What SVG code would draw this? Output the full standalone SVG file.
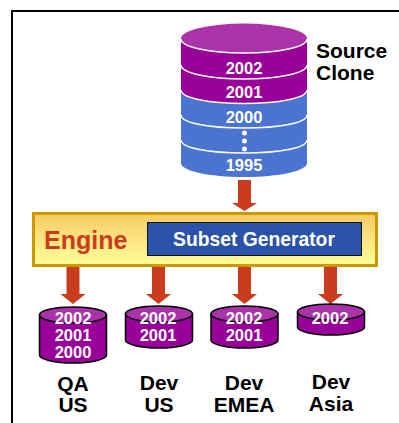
<svg xmlns="http://www.w3.org/2000/svg" width="399" height="423" viewBox="0 0 399 423">
<defs>
<linearGradient id="eng" x1="0" y1="0" x2="0" y2="1"><stop offset="0" stop-color="#f5ca66"/><stop offset="1" stop-color="#ffff99"/></linearGradient>
<path id="arrow" d="M-6.5 0H6.5V27H12.5L0 37L-12.500 27H-6.5Z"/>
</defs>
<style>
text{font-family:"Liberation Sans",Arial,sans-serif;font-weight:700}
.y{font-size:16.5px;fill:#fff;text-anchor:middle}
.l{font-size:21px;fill:#000;text-anchor:middle}
.a{fill:#c93c1e}
.sep{fill:none;stroke:#fff;stroke-width:1.5}
.cb{fill:#990099;stroke:#000;stroke-width:1.5}
.ct{fill:#aa33aa;stroke:#000;stroke-width:1.5}
</style>
<rect width="399" height="423" fill="#fff"/>
<path d="M12 423V11H399" fill="none" stroke="#000" stroke-width="2"/>
<g id="connectors">
<path class="a" d="M238 180H251V203H257L244.500 211L232 203H238Z"/>
<use href="#arrow" class="a" x="73" y="267"/>
<use href="#arrow" class="a" x="158.500" y="267"/>
<use href="#arrow" class="a" x="244.500" y="267"/>
<use href="#arrow" class="a" x="330.500" y="267"/>
</g>
<g id="source-clone">
<path d="M181 91V163C181 171 209 177 244 177S307 171 307 163V91Z" fill="#4a74d0"/>
<path d="M181 39V91C181 99 209 104 244 104S307 99 307 91V39Z" fill="#990099"/>
<ellipse cx="244" cy="38.500" rx="63" ry="15" fill="#aa33aa"/>
<path class="sep" d="M181 39C181 47 209 53 244 53S307 47 307 39"/>
<path class="sep" d="M181 65C181 73 209 79 244 79S307 73 307 65"/>
<path class="sep" d="M181 90C181 98 209 103.500 244 103.500S307 98 307 90"/>
<path class="sep" d="M181 115C181 123 209 128 244 128S307 123 307 115"/>
<path class="sep" d="M181 140C181 148 209 153 244 153S307 148 307 140"/>
<text class="y" x="244" y="74">2002</text>
<text class="y" x="244" y="98">2001</text>
<text class="y" x="244" y="123">2000</text>
<circle cx="244.500" cy="133" r="2.500" fill="#fff"/><circle cx="244.500" cy="141" r="2.500" fill="#fff"/><circle cx="244.500" cy="149" r="2.500" fill="#fff"/>
<text class="y" x="244" y="171">1995</text>
<text class="l" style="text-anchor:start" x="316" y="58">Source</text>
<text class="l" style="text-anchor:start" x="316" y="80">Clone</text>
</g>
<g id="engine">
<rect x="33.500" y="213.500" width="343" height="52" fill="url(#eng)" stroke="#cc9900" stroke-width="3"/>
<text x="44" y="249" font-size="25" fill="#c93c1e">Engine</text>
</g>
<g id="subset-generator">
<rect x="147.500" y="222.500" width="214" height="33" fill="#2a52a8" stroke="#111" stroke-width="1"/>
<text x="254" y="246" font-size="19.300" fill="#fff" text-anchor="middle">Subset Generator</text>
</g>
<g id="qa-us">
<path class="cb" d="M39.500 315V355C39.500 359.500 55 363 73 363S106.500 359.500 106.500 355V315Z"/>
<ellipse class="ct" cx="73" cy="315" rx="33.500" ry="8"/>
<text class="y" x="73" y="324">2002</text><text class="y" x="73" y="341">2001</text><text class="y" x="73" y="358">2000</text>
<text class="l" x="73" y="391">QA</text><text class="l" x="73" y="412">US</text>
</g>
<g id="dev-us">
<path class="cb" d="M125.500 314V340C125.500 344.500 141 348 159 348S192.500 344.500 192.500 340V314Z"/>
<ellipse class="ct" cx="159" cy="314" rx="33.500" ry="8"/>
<text class="y" x="158" y="324">2002</text><text class="y" x="158" y="341">2001</text>
<text class="l" x="159" y="390">Dev</text><text class="l" x="159" y="412">US</text>
</g>
<g id="dev-emea">
<path class="cb" d="M211 314V340C211 344.500 226.500 348 244.500 348S278 344.500 278 340V314Z"/>
<ellipse class="ct" cx="244.500" cy="314" rx="33.500" ry="8"/>
<text class="y" x="244" y="324">2002</text><text class="y" x="244" y="341">2001</text>
<text class="l" x="244" y="390">Dev</text><text class="l" x="244" y="412">EMEA</text>
</g>
<g id="dev-asia">
<path class="cb" d="M297.500 312V327C297.500 331.500 313 335 331 335S364.500 331.500 364.500 327V312Z"/>
<ellipse class="ct" cx="331" cy="312" rx="33.500" ry="8"/>
<text class="y" x="330" y="324">2002</text>
<text class="l" x="331" y="389">Dev</text><text class="l" x="331" y="411">Asia</text>
</g>
</svg>
